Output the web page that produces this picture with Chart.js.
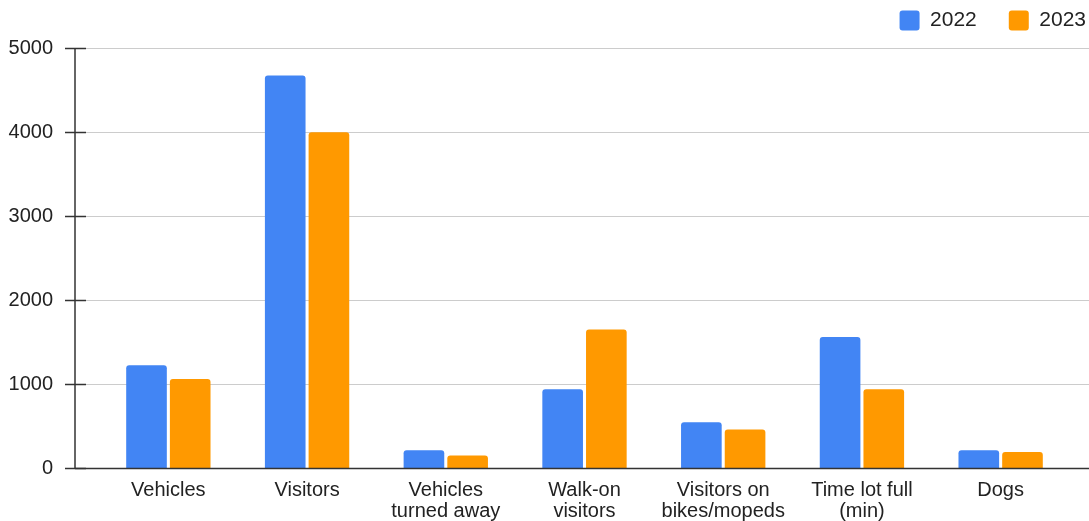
<!DOCTYPE html>
<html>
<head>
<meta charset="utf-8">
<script src="https://cdn.jsdelivr.net/npm/chart.js@4"></script>
<style>
  html, body { margin: 0; padding: 0; background: #fff; overflow: hidden; }
  /* the reference is cropped on the right and top, so the canvas is a bit bigger than the window */
  .wrap { width: 1089px; height: 521px; overflow: hidden; }
  canvas { display: block; margin-top: -22px; }
</style>
</head>
<body>
<div class="wrap"><canvas id="parkChart" width="1118" height="556"></canvas></div>
<script>
// Data
const categories = [
    'Vehicles',
    'Visitors',
    ['Vehicles', 'turned away'],
    ['Walk-on', 'visitors'],
    ['Visitors on', 'bikes/mopeds'],
    ['Time lot full', '(min)'],
    'Dogs'
];
const seriesNames = ['2022', '2023'];
const values2022 = [1225, 4675, 212, 938, 545, 1560, 210];
const values2023 = [1060, 4000, 150, 1650, 460, 938, 190];
const yTicks = [0, 1000, 2000, 3000, 4000, 5000];

const FONT = '"Liberation Sans", Arial, sans-serif';
const TEXT = '#222222';

// Google-Sheets style axis: y line sits left of the first category band,
// gridlines run from the tick marks to the right edge
const sheetAxes = {
    id: 'sheetAxes',
    beforeDatasetsDraw(chart) {
        const { ctx, scales: { y }, chartArea } = chart;
        const axisX = chartArea.left - 24;
        ctx.save();
        ctx.lineWidth = 1;
        ctx.strokeStyle = '#cccccc';
        yTicks.forEach(v => {
            if (v === 0) return;
            const py = Math.round(y.getPixelForValue(v)) + 0.5;
            ctx.beginPath();
            ctx.moveTo(axisX + 11, py);
            ctx.lineTo(chart.width, py);
            ctx.stroke();
        });
        ctx.restore();
    },
    afterDatasetsDraw(chart) {
        const { ctx, scales: { y }, chartArea } = chart;
        const axisX = chartArea.left - 24;
        const top = y.getPixelForValue(yTicks[yTicks.length - 1]);
        const base = Math.round(y.getPixelForValue(0)) + 0.5;
        ctx.save();
        ctx.strokeStyle = '#333333';
        ctx.lineWidth = 1.5;
        // vertical axis
        ctx.beginPath();
        ctx.moveTo(axisX, top);
        ctx.lineTo(axisX, base);
        ctx.stroke();
        // tick marks
        yTicks.forEach(v => {
            const py = Math.round(y.getPixelForValue(v)) + 0.5;
            ctx.beginPath();
            ctx.moveTo(axisX - 10, py);
            ctx.lineTo(axisX + 11, py);
            ctx.stroke();
        });
        // baseline
        ctx.beginPath();
        ctx.moveTo(axisX, base);
        ctx.lineTo(chart.width, base);
        ctx.stroke();
        ctx.restore();
    }
};

new Chart(document.getElementById('parkChart'), {
    type: 'bar',
    data: {
        labels: categories,
        datasets: [
            {
                label: seriesNames[0],
                data: values2022,
                backgroundColor: '#4285f4',
                borderRadius: { topLeft: 3, topRight: 3 },
                borderSkipped: false
            },
            {
                label: seriesNames[1],
                data: values2023,
                backgroundColor: '#ff9900',
                borderRadius: { topLeft: 3, topRight: 3 },
                borderSkipped: false
            }
        ]
    },
    options: {
        responsive: false,
        animation: false,
        datasets: {
            bar: {
                categoryPercentage: 0.63,
                barPercentage: 0.93
            }
        },
        layout: {
            padding: 0
        },
        plugins: {
            legend: {
                display: true,
                position: 'top',
                align: 'end',
                weight: 3000,
                labels: {
                    boxWidth: 20,
                    boxHeight: 20,
                    padding: 32,
                    color: TEXT,
                    font: { family: FONT, size: 21 },
                    useBorderRadius: true,
                    borderRadius: 3
                }
            },
            // empty block between legend and plot, only adds a gap
            title: {
                display: true,
                text: '',
                font: { size: 1 },
                padding: { top: 0, bottom: 6 }
            },
            tooltip: { enabled: false }
        },
        scales: {
            x: {
                grid: { display: false, drawTicks: false },
                border: { display: false },
                ticks: {
                    color: TEXT,
                    font: { family: FONT, size: 20, lineHeight: 1.05 },
                    padding: 12,
                    maxRotation: 0,
                    autoSkip: false
                }
            },
            y: {
                min: 0,
                max: 5000,
                grid: { display: false, drawTicks: false },
                border: { display: false },
                ticks: {
                    stepSize: 1000,
                    color: TEXT,
                    font: { family: FONT, size: 20 },
                    padding: 46,
                    callback: (v) => String(v)
                },
                afterFit(scale) {
                    scale.width = 99;
                }
            },
            // empty right-hand axis, only reserves room after the last category
            yRight: {
                position: 'right',
                display: true,
                grid: { display: false, drawTicks: false },
                border: { display: false },
                ticks: { display: false },
                afterFit(scale) {
                    scale.width = 48;
                }
            }
        }
    },
    plugins: [sheetAxes]
});
</script>
</body>
</html>
